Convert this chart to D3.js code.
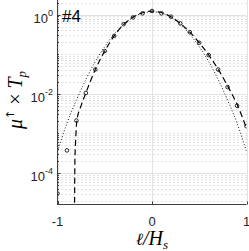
<!DOCTYPE html>
<html>
<head>
<meta charset="utf-8">
<script src="https://cdn.jsdelivr.net/npm/d3@7"></script>
<style>
  body { margin: 0; background: #fff; }
  text { font-family: "Liberation Sans", Arial, sans-serif; fill: #262626; }
</style>
</head>
<body>
<svg width="249" height="251"></svg>
<script>
// measured points (open circles)
var pointX = [-1, -0.9, -0.8, -0.7, -0.6, -0.5, -0.4, -0.3, -0.2, -0.1, 0,
              0.1, 0.2, 0.3, 0.4, 0.5, 0.6, 0.7, 0.8, 0.9, 1];
var pointY = [3.0e-5, 3.7e-4, 2.1e-3, 1.05e-2, 0.041, 0.12, 0.29, 0.575, 0.85, 1.08, 1.24,
              1.08, 0.89, 0.60, 0.363, 0.195, 0.0955, 0.041, 0.0148, 0.0050, 0.00151];

// dashed fit
var dashX = [-0.8195, -0.816, -0.809, -0.795, -0.75, -0.7, -0.6, -0.5, -0.4, -0.3, -0.2, -0.1, 0,
             0.1, 0.2, 0.3, 0.4, 0.5, 0.6, 0.7, 0.8, 0.9, 1];
var dashY = [1e-5, 1.8e-4, 5.75e-4, 2.1e-3, 5.0e-3, 0.0105, 0.041, 0.12, 0.29, 0.56, 0.87, 1.12, 1.23,
             1.135, 0.89, 0.60, 0.363, 0.195, 0.0955, 0.0417, 0.0158, 0.0054, 0.00135];

// dotted gaussian
var dotX = [-1, -0.9, -0.8, -0.7, -0.6, -0.5, -0.4, -0.3, -0.2, -0.1, 0,
            0.1, 0.2, 0.3, 0.4, 0.5, 0.6, 0.7, 0.8, 0.9, 1];
var dotY = [3.5e-4, 1.8e-3, 6.9e-3, 0.023, 0.065, 0.155, 0.32, 0.575, 0.85, 1.1, 1.17,
            1.1, 0.85, 0.575, 0.32, 0.155, 0.065, 0.023, 6.9e-3, 1.8e-3, 3.5e-4];

var xTicks = [-1, 0, 1];
var xTickLabels = ["-1", "0", "1"];
var yTicks = [1e-4, 1e-2, 1];
var yTickExp = ["-4", "-2", "0"];
var panelLabel = "#4";

var svg = d3.select("svg");
var L = 57.5, R = 246.5, T = 0, B = 204.5;

var x = d3.scaleLinear().domain([-1, 1]).range([L, R]);
var y = d3.scaleLog().domain([Math.pow(10, -4.8), Math.pow(10, 0.371)]).range([B, T]);

svg.append("clipPath").attr("id", "clip")
  .append("rect").attr("x", L).attr("y", T).attr("width", R - L).attr("height", B - T);

// minor grid (dotted) at every log sub-tick that is not a labelled tick
var minor = [];
for (var k = -5; k <= 0; k++) {
  for (var m = 1; m <= 9; m++) {
    var v = m * Math.pow(10, k);
    if (v < y.domain()[0] || v > y.domain()[1]) continue;
    if (yTicks.some(function(t) { return Math.abs(t - v) < 1e-12; })) continue;
    minor.push(v);
  }
}
svg.append("g").selectAll("line").data(minor).enter().append("line")
  .attr("x1", L).attr("x2", R)
  .attr("y1", function(d) { return Math.round(y(d)) + 0.5; })
  .attr("y2", function(d) { return Math.round(y(d)) + 0.5; })
  .style("stroke", "#c4c4c4").style("stroke-width", 1).style("stroke-dasharray", "1,3");

// major grid
svg.append("g").selectAll("line").data(yTicks).enter().append("line")
  .attr("x1", L).attr("x2", R)
  .attr("y1", function(d) { return Math.round(y(d)) + 0.5; })
  .attr("y2", function(d) { return Math.round(y(d)) + 0.5; })
  .style("stroke", "#e3e3e3").style("stroke-width", 1);
svg.append("g").selectAll("line").data(xTicks).enter().append("line")
  .attr("x1", function(d) { return Math.round(x(d)) + 0.5; })
  .attr("x2", function(d) { return Math.round(x(d)) + 0.5; })
  .attr("y1", T).attr("y2", B)
  .style("stroke", "#e3e3e3").style("stroke-width", 1);

var plot = svg.append("g").attr("clip-path", "url(#clip)");

var dotted = d3.range(dotX.length).map(function(i) { return [dotX[i], dotY[i]]; });
var dashed = d3.range(dashX.length).map(function(i) { return [dashX[i], dashY[i]]; });
var line = d3.line()
  .x(function(d) { return x(d[0]); })
  .y(function(d) { return y(d[1]); })
  .curve(d3.curveMonotoneX);

plot.append("path").datum(dotted).attr("d", line)
  .style("fill", "none").style("stroke", "#1a1a1a").style("stroke-width", 1)
  .style("stroke-dasharray", "1,2");

plot.append("path").datum(dashed).attr("d", line)
  .style("fill", "none").style("stroke", "#000").style("stroke-width", 1.2)
  .style("stroke-dasharray", "6,3.5");

plot.selectAll("circle").data(pointX).enter().append("circle")
  .attr("cx", function(d) { return x(d); })
  .attr("cy", function(d, i) { return y(pointY[i]); })
  .attr("r", 1.8)
  .style("fill", "none").style("stroke", "#111").style("stroke-width", 0.9);

// axes
svg.append("line").attr("x1", L).attr("x2", L).attr("y1", T).attr("y2", B + 0.5)
  .style("stroke", "#404040").style("stroke-width", 1);
svg.append("line").attr("x1", L).attr("x2", R).attr("y1", B).attr("y2", B)
  .style("stroke", "#404040").style("stroke-width", 1);

// y ticks (inward), minor ticks shorter
svg.append("g").selectAll("line").data(minor).enter().append("line")
  .attr("x1", L).attr("x2", L + 1.5)
  .attr("y1", function(d) { return Math.round(y(d)) + 0.5; })
  .attr("y2", function(d) { return Math.round(y(d)) + 0.5; })
  .style("stroke", "#404040");
svg.append("g").selectAll("line").data(yTicks).enter().append("line")
  .attr("x1", L).attr("x2", L + 3)
  .attr("y1", function(d) { return Math.round(y(d)) + 0.5; })
  .attr("y2", function(d) { return Math.round(y(d)) + 0.5; })
  .style("stroke", "#404040");
svg.append("g").selectAll("line").data(xTicks).enter().append("line")
  .attr("x1", function(d) { return Math.round(x(d)) + 0.5; })
  .attr("x2", function(d) { return Math.round(x(d)) + 0.5; })
  .attr("y1", B).attr("y2", B - 3)
  .style("stroke", "#404040");

// tick labels
var yl = svg.append("g").selectAll("text").data(yTicks).enter().append("text")
  .attr("x", 53).attr("y", function(d) { return y(d) + 8.5; })
  .attr("text-anchor", "end").style("font-size", "13px");
yl.append("tspan").text("10");
yl.append("tspan").attr("dy", -7).style("font-size", "9px")
  .text(function(d, i) { return yTickExp[i]; });

svg.append("g").selectAll("text").data(xTicks).enter().append("text")
  .attr("x", function(d) { return x(d); }).attr("y", 225.5)
  .attr("text-anchor", "middle").style("font-size", "13px")
  .text(function(d, i) { return xTickLabels[i]; });

svg.append("text").attr("x", 62).attr("y", 22)
  .style("font-size", "17px").style("fill", "#000").text(panelLabel);

// axis titles
var serif = '"Liberation Serif", "DejaVu Serif", serif';
var xt = svg.append("text").attr("x", 152).attr("y", 245).attr("text-anchor", "middle")
  .style("font-family", serif).style("font-size", "20px").style("font-style", "italic").style("fill", "#000");
xt.append("tspan").style("font-family", '"DejaVu Serif", serif').style("font-size", "17px").text("\u2113");
xt.append("tspan").text("/H");
xt.append("tspan").attr("dy", 4).style("font-size", "13px").text("s");

var yt = svg.append("text").attr("transform", "translate(22,100) rotate(-90)")
  .attr("text-anchor", "middle")
  .style("font-family", serif).style("font-size", "20px").style("fill", "#000");
yt.append("tspan").style("font-style", "italic").text("\u03bc");
yt.append("tspan").attr("dy", -8).style("font-family", '"DejaVu Sans", sans-serif')
  .style("font-size", "11px").text("\u2191");
yt.append("tspan").attr("dy", 8).text(" \u00d7 ");
yt.append("tspan").style("font-style", "italic").text("T");
yt.append("tspan").attr("dy", 4).style("font-size", "13px").style("font-style", "italic").text("p");
</script>
</body>
</html>
